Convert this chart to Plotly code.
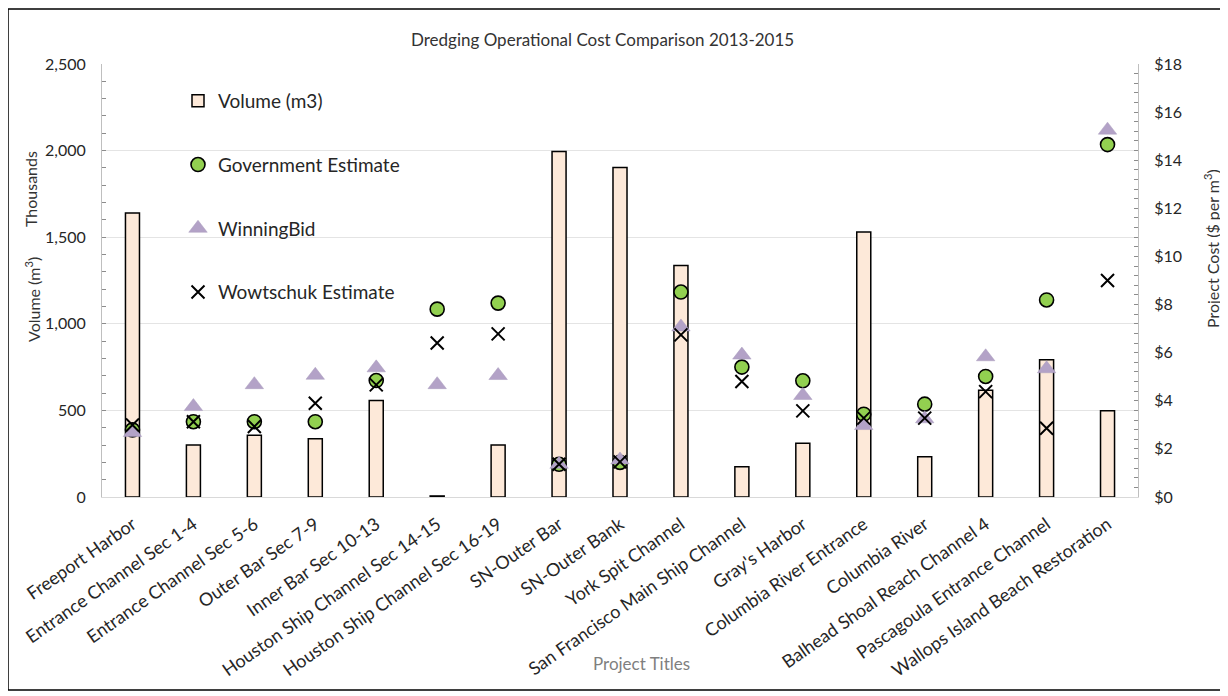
import plotly.graph_objects as go

categories = [
    "Freeport Harbor", "Entrance Channel Sec 1-4", "Entrance Channel Sec 5-6",
    "Outer Bar Sec 7-9", "Inner Bar Sec 10-13", "Houston Ship Channel Sec 14-15",
    "Houston Ship Channel Sec 16-19", "SN-Outer Bar", "SN-Outer Bank",
    "York Spit Channel", "San Francisco Main Ship Channel", "Gray's Harbor",
    "Columbia River Entrance", "Columbia River", "Balhead Shoal Reach Channel 4",
    "Pascagoula Entrance Channel", "Wallops Island Beach Restoration",
]
# Volume in thousands of m3
volume_thousands = [1640, 300, 357, 337, 557, 6, 300, 1995, 1902, 1337, 175, 310, 1530, 233, 616, 792, 498]
# Cost in $ per m3
gov_estimate = [2.79, 3.13, 3.13, 3.13, 4.84, 7.81, 8.06, 1.36, 1.44, 8.52, 5.40, 4.83, 3.44, 3.86, 5.01, 8.19, 14.65]
winning_bid = [2.68, 3.76, 4.67, 5.06, 5.37, 4.67, 5.05, 1.36, 1.54, 7.07, 5.90, 4.22, 2.97, 3.25, 5.83, 5.33, 15.25]
wowtschuk = [2.99, 3.13, 2.93, 3.90, 4.66, 6.40, 6.78, 1.36, 1.46, 6.74, 4.80, 3.58, 3.28, 3.28, 4.38, 2.86, 9.00]

left_ticks = [0, 500, 1000, 1500, 2000, 2500]
right_ticks = [0, 2, 4, 6, 8, 10, 12, 14, 16, 18]
right_labels = ["$" + str(v) for v in right_ticks]

FONT = "Lato"
OFF = 8  # page body margin
W, H = 1228 - OFF, 696 - OFF
PL, PR, PT, PB = 102, 1138, 64, 497  # plot area in page pixels
ML, MR, MT, MB = PL - OFF, W - (PR - OFF), PT - OFF, H - (PB - OFF)
PW = PR - PL
PH = PB - PT


def px_x(px):
    return (px - PL) / PW


def px_y(py):
    return (PB - py) / PH


fig = go.Figure()

fig.add_trace(go.Bar(
    x=categories, y=volume_thousands, name="Volume (m3)",
    width=0.23,
    marker=dict(color="#fde9d9", line=dict(color="#000000", width=1.5)),
    yaxis="y", legendgroup="a",
))
fig.add_trace(go.Scatter(
    x=categories, y=gov_estimate, name="Government Estimate", mode="markers",
    marker=dict(symbol="circle", size=14, color="#92d050", line=dict(color="#000000", width=1.6)),
    yaxis="y2", legendgroup="b",
))
fig.add_trace(go.Scatter(
    x=categories, y=winning_bid, name="WinningBid", mode="markers",
    marker=dict(symbol="triangle-up", size=16, color="#b3a2c7", line=dict(color="#a89cbd", width=0.5)),
    yaxis="y2", legendgroup="c",
))
fig.add_trace(go.Scatter(
    x=categories, y=wowtschuk, name="Wowtschuk Estimate", mode="markers",
    marker=dict(symbol="x-thin", size=13, color="#000000", line=dict(color="#000000", width=2)),
    yaxis="y2", legendgroup="d",
))

fig.update_layout(
    width=W, height=H, autosize=False,
    margin=dict(l=ML, r=MR, t=MT, b=MB, pad=0),
    paper_bgcolor="white", plot_bgcolor="white",
    font=dict(family=FONT, size=14, color="#262626"),
    showlegend=True,
    legend=dict(
        x=px_x(178), y=px_y(82), xanchor="left", yanchor="top",
        traceorder="grouped", tracegroupgap=36,
        font=dict(family=FONT, size=19, color="#262626"),
        bgcolor="rgba(0,0,0,0)", itemwidth=30,
    ),
    xaxis=dict(
        type="category", range=[-0.5, 16.5],
        showline=True, linecolor="#d9d9d9", linewidth=1,
        ticks="", tickangle=-35, ticklabelstandoff=9,
        tickfont=dict(family=FONT, size=18, color="#262626"),
        showgrid=False, zeroline=False,
    ),
    yaxis=dict(
        range=[0, 2500], tickvals=left_ticks, tickformat=",",
        showline=True, linecolor="#bfbfbf", linewidth=1,
        ticks="inside", ticklen=4, tickcolor="#8c8c8c",
        minor=dict(dtick=100, ticks="inside", ticklen=4, tickcolor="#8c8c8c", showgrid=False),
        showgrid=True, gridcolor="#e4e4e4", gridwidth=1,
        zeroline=False, ticklabelstandoff=12,
        tickfont=dict(family=FONT, size=16, color="#262626"),
    ),
    yaxis2=dict(
        range=[0, 18], tickvals=right_ticks, ticktext=right_labels,
        overlaying="y", side="right", anchor="x",
        showline=True, linecolor="#bfbfbf", linewidth=1,
        ticks="inside", ticklen=4, tickcolor="#8c8c8c",
        minor=dict(dtick=0.4, ticks="inside", ticklen=4, tickcolor="#8c8c8c", showgrid=False),
        showgrid=False, zeroline=False, ticklabelstandoff=12,
        tickfont=dict(family=FONT, size=16, color="#262626"),
    ),
)

annotations = [
    dict(text="Dredging Operational Cost Comparison 2013-2015", x=px_x(602), y=px_y(40),
         font=dict(family=FONT, size=17, color="#333333")),
    dict(text="Thousands", x=px_x(30), y=px_y(189), textangle=-90,
         font=dict(family=FONT, size=16, color="#333333")),
    dict(text="Volume (m<sup>3</sup>)", x=px_x(32), y=px_y(300), textangle=-90,
         font=dict(family=FONT, size=16, color="#333333")),
    dict(text="Project Cost ($ per m<sup>3</sup>)", x=px_x(1211), y=px_y(249), textangle=-90,
         font=dict(family=FONT, size=16, color="#333333")),
    dict(text="Project Titles", x=px_x(641), y=px_y(663),
         font=dict(family=FONT, size=17, color="#7f7f7f")),
]
for a in annotations:
    a.update(xref="paper", yref="paper", showarrow=False, xanchor="center", yanchor="middle")
fig.update_layout(annotations=annotations)

fig.add_shape(type="rect", xref="paper", yref="paper",
              x0=px_x(8), x1=px_x(1221), y0=px_y(690), y1=px_y(9),
              line=dict(color="#000000", width=1.5), fillcolor="rgba(0,0,0,0)", layer="below")

fig.write_html("out.html")
